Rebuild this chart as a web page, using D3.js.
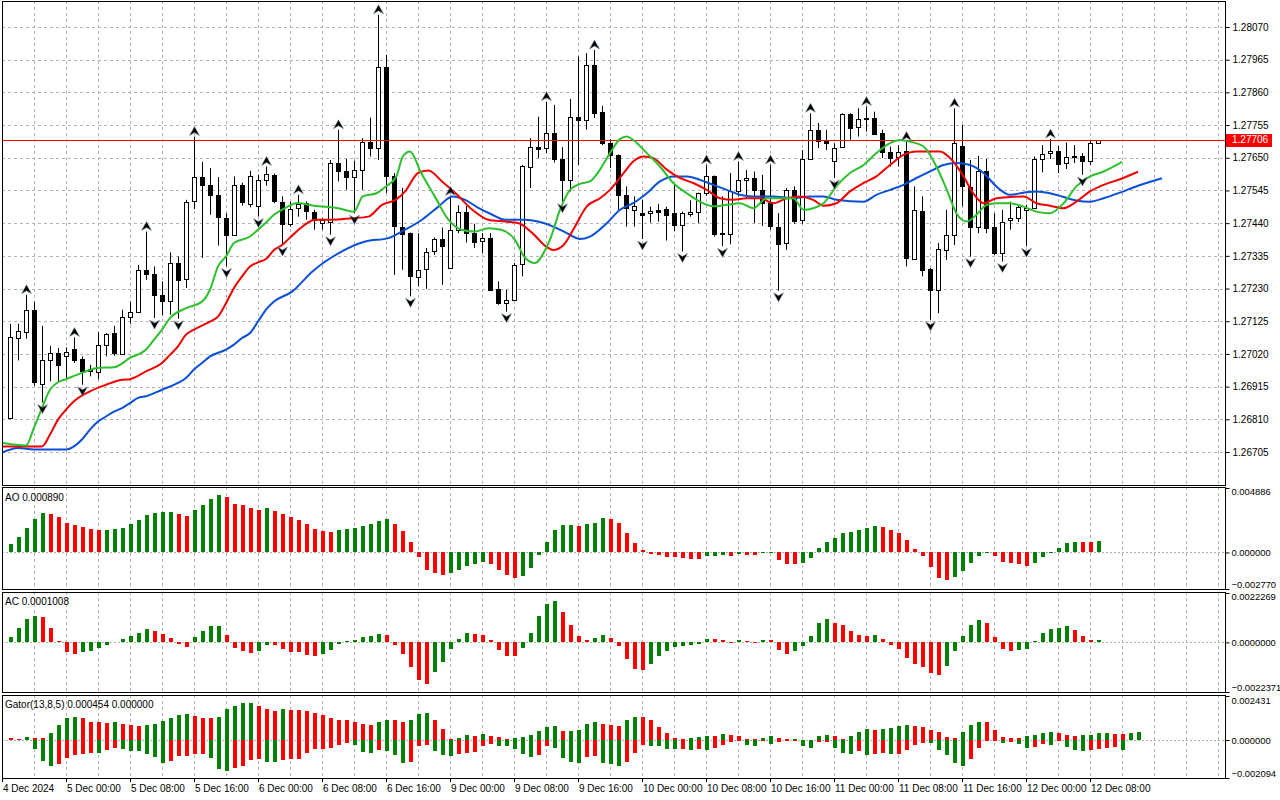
<!DOCTYPE html>
<html lang="en">
<head>
<meta charset="UTF-8">
<title>GBPUSD H1 - Alligator, AO, AC, Gator</title>
<script src="https://cdn.jsdelivr.net/npm/d3@7"></script>
<style>
  body { margin: 0; background: #fff; }
  svg { display: block; font-family: "Liberation Sans", Arial, sans-serif; font-size: 10px; }
</style>
</head>
<body>
<div id="chart"></div>
<script>
// ---- candles (H1, bar 0 = 4 Dec 17:00) ----
const candleOpen = [1.26814,1.27074,1.27090,1.27162,1.26923,1.27000,1.27023,1.27013,1.27037,1.27005,
  1.26972,1.26962,1.27049,1.27087,1.27021,1.27139,1.27155,1.27289,1.27277,1.27209,
  1.27190,1.27312,1.27262,1.27511,1.27588,1.27562,1.27530,1.27457,1.27402,1.27562,
  1.27504,1.27496,1.27578,1.27594,1.27509,1.27437,1.27488,1.27504,1.27476,1.27442,
  1.27442,1.27633,1.27608,1.27588,1.27610,1.27700,1.27681,1.27941,1.27590,1.27429,
  1.27408,1.27269,1.27293,1.27349,1.27389,1.27296,1.27419,1.27477,1.27408,1.27381,
  1.27392,1.27228,1.27183,1.27194,1.27306,1.27622,1.27686,1.27681,1.27729,1.27646,
  1.27577,1.27780,1.27772,1.27948,1.27796,1.27697,1.27659,1.27531,1.27483,1.27474,
  1.27472,1.27483,1.27485,1.27472,1.27434,1.27469,1.27476,1.27536,1.27590,1.27408,
  1.27403,1.27542,1.27577,1.27585,1.27547,1.27504,1.27429,1.27376,1.27547,1.27449,
  1.27646,1.27740,1.27707,1.27640,1.27684,1.27791,1.27748,1.27776,1.27777,1.27729,
  1.27670,1.27652,1.27672,1.27326,1.27480,1.27292,1.27226,1.27354,1.27403,1.27688,
  1.27556,1.27429,1.27609,1.27429,1.27344,1.27448,1.27456,1.27484,1.27490,1.27646,
  1.27665,1.27673,1.27633,1.27655,1.27655,1.27638,1.27697];
const candleHigh = [1.27117,1.27117,1.27210,1.27188,1.27110,1.27046,1.27039,1.27041,1.27073,1.27012,
  1.26985,1.27090,1.27087,1.27110,1.27162,1.27188,1.27306,1.27413,1.27301,1.27253,
  1.27346,1.27333,1.27515,1.27718,1.27637,1.27617,1.27588,1.27472,1.27590,1.27570,
  1.27608,1.27595,1.27622,1.27599,1.27526,1.27509,1.27531,1.27509,1.27483,1.27456,
  1.27643,1.27740,1.27646,1.27641,1.27713,1.27779,1.28109,1.27980,1.27601,1.27553,
  1.27410,1.27408,1.27360,1.27394,1.27426,1.27526,1.27497,1.27496,1.27438,1.27408,
  1.27408,1.27253,1.27226,1.27312,1.27627,1.27713,1.27782,1.27830,1.27820,1.27684,
  1.27839,1.27975,1.27986,1.27996,1.27817,1.27710,1.27661,1.27558,1.27526,1.27515,
  1.27493,1.27502,1.27493,1.27563,1.27477,1.27513,1.27538,1.27627,1.27593,1.27526,
  1.27601,1.27638,1.27611,1.27606,1.27595,1.27627,1.27472,1.27553,1.27558,1.27675,
  1.27793,1.27762,1.27740,1.27697,1.27793,1.27793,1.27809,1.27815,1.27798,1.27740,
  1.27686,1.27691,1.27702,1.27558,1.27526,1.27296,1.27376,1.27483,1.27809,1.27756,
  1.27643,1.27656,1.27646,1.27472,1.27483,1.27509,1.27499,1.27499,1.27654,1.27691,
  1.27710,1.27688,1.27699,1.27691,1.27665,1.27705,1.27707];
const candleLow = [1.26810,1.26999,1.27069,1.26918,1.26864,1.26932,1.26932,1.26943,1.26991,1.26921,
  1.26948,1.26939,1.27012,1.27014,1.27017,1.27117,1.27153,1.27258,1.27135,1.27144,
  1.27146,1.27133,1.27232,1.27485,1.27328,1.27467,1.27368,1.27301,1.27400,1.27496,
  1.27491,1.27461,1.27560,1.27504,1.27370,1.27429,1.27461,1.27451,1.27419,1.27419,
  1.27403,1.27574,1.27547,1.27472,1.27547,1.27654,1.27643,1.27537,1.27274,1.27290,
  1.27205,1.27237,1.27229,1.27338,1.27242,1.27295,1.27408,1.27378,1.27360,1.27344,
  1.27224,1.27178,1.27156,1.27192,1.27269,1.27553,1.27649,1.27665,1.27635,1.27509,
  1.27542,1.27627,1.27740,1.27777,1.27691,1.27617,1.27483,1.27429,1.27429,1.27389,
  1.27442,1.27445,1.27384,1.27415,1.27349,1.27461,1.27440,1.27528,1.27397,1.27366,
  1.27372,1.27526,1.27520,1.27440,1.27431,1.27419,1.27223,1.27354,1.27438,1.27438,
  1.27643,1.27681,1.27675,1.27585,1.27681,1.27708,1.27718,1.27734,1.27724,1.27649,
  1.27622,1.27622,1.27301,1.27322,1.27269,1.27130,1.27151,1.27322,1.27370,1.27494,
  1.27333,1.27408,1.27408,1.27338,1.27317,1.27419,1.27444,1.27366,1.27488,1.27603,
  1.27646,1.27601,1.27614,1.27633,1.27595,1.27627,1.27697];
const candleClose = [1.27074,1.27095,1.27162,1.26932,1.27001,1.27023,1.26983,1.27026,1.27001,1.26967,
  1.26964,1.27049,1.27084,1.27023,1.27139,1.27155,1.27289,1.27277,1.27209,1.27190,
  1.27312,1.27259,1.27508,1.27588,1.27561,1.27529,1.27458,1.27402,1.27562,1.27506,
  1.27593,1.27578,1.27598,1.27509,1.27437,1.27486,1.27501,1.27477,1.27451,1.27451,
  1.27633,1.27606,1.27588,1.27610,1.27700,1.27681,1.27941,1.27590,1.27429,1.27408,
  1.27269,1.27290,1.27347,1.27389,1.27365,1.27419,1.27476,1.27408,1.27378,1.27392,
  1.27226,1.27183,1.27194,1.27306,1.27622,1.27685,1.27681,1.27729,1.27646,1.27577,
  1.27780,1.27770,1.27948,1.27795,1.27695,1.27659,1.27529,1.27488,1.27496,1.27469,
  1.27480,1.27477,1.27465,1.27432,1.27472,1.27476,1.27536,1.27590,1.27405,1.27405,
  1.27542,1.27577,1.27585,1.27547,1.27504,1.27429,1.27376,1.27547,1.27449,1.27646,
  1.27740,1.27704,1.27698,1.27681,1.27791,1.27745,1.27774,1.27777,1.27727,1.27667,
  1.27651,1.27668,1.27328,1.27483,1.27292,1.27226,1.27357,1.27403,1.27697,1.27558,
  1.27429,1.27609,1.27427,1.27344,1.27445,1.27456,1.27492,1.27490,1.27646,1.27663,
  1.27673,1.27631,1.27652,1.27651,1.27638,1.27697,1.27706];

// bars carrying a fractal
const fractalUp = [2, 8, 17, 23, 32, 36, 41, 46, 55, 67, 73, 87, 91, 95, 100, 107, 112, 118, 130];
const fractalDown = [4, 9, 18, 21, 27, 31, 34, 40, 43, 50, 62, 69, 79, 84, 89, 96, 103, 115, 120, 124, 127, 134];

// Alligator lines, [bar, price] (shifted lines run past the last bar)
const jaw = [[-1,1.26703],[1,1.26718],[3,1.26713],[7,1.26713],[8,1.26723],[9,1.26745],[10,1.26777],[11,1.26803],
  [12,1.26819],[13,1.26835],[14,1.26846],[15,1.26862],[16,1.26879],[17,1.26884],[19,1.26905],[21,1.26927],
  [22,1.26943],[23,1.26970],[24,1.26991],[25,1.27012],[27,1.27034],[28,1.27050],[29,1.27071],[30,1.27087],
  [31,1.27124],[32,1.27162],[33,1.27188],[35.3,1.27221],[37.8,1.27285],[41.1,1.27344],[44.4,1.27381],
  [47.3,1.27392],[49.4,1.27419],[51.5,1.27451],[53.6,1.27494],[55.3,1.27526],[56.9,1.27515],[58.6,1.27488],
  [60.3,1.27467],[61.9,1.27451],[64.4,1.27451],[66,1.27445],[67.9,1.27429],[69.6,1.27408],[71.25,1.27389],
  [72.5,1.27397],[74.6,1.27440],[76.25,1.27483],[77.9,1.27504],[79.6,1.27536],[81.25,1.27574],[82.9,1.27590],
  [84.6,1.27590],[86.25,1.27579],[87.9,1.27563],[89.6,1.27547],[91.25,1.27531],[92.9,1.27526],[95.4,1.27526],
  [97.9,1.27520],[100,1.27526],[101.7,1.27526],[103.3,1.27515],[106.7,1.27509],[108.3,1.27531],[110,1.27547],
  [111.7,1.27563],[113.3,1.27585],[115,1.27606],[116.7,1.27627],[118.3,1.27633],[120,1.27627],[121.7,1.27601],
  [123.3,1.27558],[125,1.27531],[126.7,1.27538],[128.3,1.27542],[130,1.27536],[131.7,1.27524],[133.3,1.27513],
  [135,1.27509],[136.7,1.27520],[138.75,1.27538],[141,1.27560],[144,1.27584]];
const teeth = [[-1,1.26723],[4,1.26723],[5,1.26761],[6,1.26809],[7,1.26841],[8,1.26868],[10,1.26900],[12,1.26921],
  [14,1.26937],[15,1.26939],[17,1.26964],[19,1.26991],[20,1.27017],[21,1.27044],[22,1.27082],[23,1.27098],
  [25,1.27124],[26,1.27140],[27,1.27183],[28,1.27232],[29,1.27269],[30,1.27301],[31,1.27314],[32,1.27325],
  [33,1.27354],[34,1.27370],[35.6,1.27408],[38.2,1.27451],[40,1.27451],[42.9,1.27456],[44.8,1.27461],
  [46.5,1.27499],[48.2,1.27515],[49.4,1.27542],[51,1.27601],[52.3,1.27609],[54,1.27574],[55.7,1.27536],
  [57.8,1.27483],[59.8,1.27451],[61.9,1.27445],[63.6,1.27440],[65.3,1.27408],[67,1.27365],[67.9,1.27354],
  [69.2,1.27370],[70.4,1.27419],[72.1,1.27494],[73.75,1.27520],[75,1.27547],[76.7,1.27601],[77.9,1.27638],
  [79.2,1.27654],[80.4,1.27649],[82.1,1.27612],[83.75,1.27585],[85.4,1.27569],[87.1,1.27547],[88.75,1.27520],
  [90.4,1.27515],[92.1,1.27520],[93.75,1.27520],[95.4,1.27504],[97.1,1.27520],[98.75,1.27526],[100.4,1.27515],
  [101.7,1.27496],[103.3,1.27504],[105,1.27542],[106.7,1.27569],[108.3,1.27590],[110,1.27627],[111.7,1.27659],
  [113.3,1.27670],[116.25,1.27670],[117.5,1.27649],[119.2,1.27590],[120.4,1.27536],[121.7,1.27504],
  [123.3,1.27520],[125,1.27524],[126.7,1.27526],[128.3,1.27504],[130,1.27496],[131.7,1.27488],[133.3,1.27509],
  [135,1.27542],[136.7,1.27563],[138.75,1.27581],[141,1.27605]];
const lips = [[-1,1.26735],[2,1.26726],[3,1.26783],[4,1.26847],[5,1.26905],[6,1.26929],[7,1.26939],[9,1.26959],
  [11,1.26975],[13,1.26977],[15,1.27007],[17,1.27034],[18,1.27066],[19,1.27098],[20,1.27135],[22,1.27167],
  [24,1.27188],[25,1.27226],[26,1.27301],[27,1.27333],[28,1.27376],[30,1.27397],[31,1.27419],[32,1.27442],
  [33,1.27467],[34,1.27483],[36,1.27505],[38,1.27496],[41,1.27488],[43,1.27477],[44.1,1.27526],[45.8,1.27536],
  [47,1.27558],[48.3,1.27590],[49.1,1.27654],[50,1.27670],[51.4,1.27601],[53.1,1.27526],[54.8,1.27451],
  [56.4,1.27419],[58.1,1.27413],[59.8,1.27424],[61.4,1.27419],[63.1,1.27387],[64.4,1.27328],[65.6,1.27312],
  [66.9,1.27354],[67.5,1.27387],[68.75,1.27483],[70,1.27547],[71.25,1.27566],[72.5,1.27574],[73.75,1.27612],
  [75,1.27665],[76.25,1.27710],[77.1,1.27718],[77.9,1.27707],[79.6,1.27665],[81.25,1.27622],[82.9,1.27569],
  [84.6,1.27536],[86.25,1.27509],[87.9,1.27494],[89.6,1.27499],[91.25,1.27504],[92.9,1.27488],[94.6,1.27520],
  [96.25,1.27520],[97.9,1.27520],[99.2,1.27483],[100.4,1.27488],[101.7,1.27504],[103.3,1.27558],[105,1.27601],
  [106.7,1.27627],[108.3,1.27665],[110,1.27697],[111.25,1.27707],[112.5,1.27702],[114.2,1.27686],[115.8,1.27622],
  [117.1,1.27547],[118.3,1.27472],[119.6,1.27445],[120.8,1.27467],[122.1,1.27499],[123.3,1.27504],[125,1.27504],
  [126.7,1.27493],[128.3,1.27477],[130,1.27472],[131.7,1.27504],[133.3,1.27558],[135,1.27590],[136.7,1.27606],
  [139,1.27637]];

const lastPrice = 1.27706;

// ---- Awesome Oscillator ----
const aoValues = [0.00061,0.00114,0.00182,0.00250,0.00296,0.00294,0.00265,0.00220,0.00205,0.00190,
  0.00177,0.00167,0.00169,0.00177,0.00187,0.00212,0.00245,0.00283,0.00296,0.00303,
  0.00304,0.00288,0.00273,0.00321,0.00356,0.00402,0.00432,0.00417,0.00371,0.00356,
  0.00334,0.00321,0.00334,0.00318,0.00288,0.00265,0.00243,0.00212,0.00177,0.00159,
  0.00152,0.00169,0.00177,0.00184,0.00200,0.00212,0.00238,0.00250,0.00212,0.00159,
  0.00076,-0.00035,-0.00136,-0.00152,-0.00174,-0.00159,-0.00136,-0.00099,-0.00091,-0.00076,
  -0.00091,-0.00136,-0.00174,-0.00197,-0.00182,-0.00121,-0.00020,0.00083,0.00174,0.00205,
  0.00206,0.00204,0.00212,0.00227,0.00258,0.00250,0.00220,0.00144,0.00068,0.00015,
  -0.00013,-0.00020,-0.00035,-0.00036,-0.00043,-0.00051,-0.00052,-0.00028,-0.00027,-0.00020,
  -0.00028,-0.00013,-0.00020,-0.00021,-0.00005,-0.00004,-0.00058,-0.00088,-0.00089,-0.00081,
  -0.00043,0.00030,0.00083,0.00106,0.00144,0.00152,0.00167,0.00182,0.00197,0.00190,
  0.00167,0.00144,0.00091,0.00023,-0.00028,-0.00111,-0.00195,-0.00210,-0.00187,-0.00142,
  -0.00081,-0.00028,-0.00005,-0.00028,-0.00073,-0.00081,-0.00088,-0.00104,-0.00081,-0.00035,
  -0.00005,0.00030,0.00068,0.00083,0.00082,0.00081,0.00089];

// ---- Accelerator Oscillator ----
const acValues = [0.00024,0.00065,0.00105,0.00119,0.00114,0.00065,0.00006,-0.00044,-0.00051,-0.00042,
  -0.00039,-0.00026,-0.00011,0.00002,0.00014,0.00029,0.00042,0.00060,0.00051,0.00038,
  0.00020,-0.00006,-0.00021,0.00024,0.00051,0.00074,0.00075,0.00033,-0.00024,-0.00039,
  -0.00048,-0.00039,-0.00011,-0.00012,-0.00029,-0.00044,-0.00045,-0.00056,-0.00062,-0.00051,
  -0.00033,-0.00006,0.00005,0.00009,0.00024,0.00029,0.00038,0.00033,-0.00011,-0.00051,
  -0.00110,-0.00170,-0.00188,-0.00132,-0.00087,-0.00029,0.00015,0.00042,0.00038,0.00033,
  0.00011,-0.00033,-0.00060,-0.00062,-0.00024,0.00042,0.00119,0.00173,0.00186,0.00137,
  0.00078,0.00029,0.00011,0.00020,0.00033,0.00020,-0.00015,-0.00075,-0.00120,-0.00125,
  -0.00098,-0.00062,-0.00039,-0.00021,-0.00015,-0.00012,-0.00006,0.00015,0.00014,0.00011,
  -0.00002,0.00011,0.00005,-0.00002,0.00011,0.00009,-0.00035,-0.00053,-0.00039,-0.00017,
  0.00029,0.00087,0.00105,0.00087,0.00078,0.00051,0.00033,0.00029,0.00033,0.00015,
  -0.00011,-0.00030,-0.00071,-0.00098,-0.00111,-0.00138,-0.00147,-0.00107,-0.00039,0.00029,
  0.00078,0.00101,0.00087,0.00024,-0.00030,-0.00039,-0.00035,-0.00030,0.00005,0.00042,
  0.00060,0.00065,0.00074,0.00056,0.00029,0.00009,0.0001008];

// ---- Gator Oscillator (upper runs 5 bars past the last candle, lower 3) ----
const gatorUpper = [0.00011,0.00007,0.00016,0.00011,0.00009,0.00038,0.00081,0.00124,0.00129,0.00119,
  0.00102,0.00097,0.00092,0.00097,0.00086,0.00081,0.00075,0.00081,0.00088,0.00104,
  0.00119,0.00140,0.00142,0.00135,0.00124,0.00119,0.00129,0.00172,0.00189,0.00205,
  0.00207,0.00189,0.00172,0.00162,0.00172,0.00167,0.00165,0.00163,0.00151,0.00140,
  0.00119,0.00113,0.00108,0.00097,0.00086,0.00084,0.00102,0.00113,0.00108,0.00102,
  0.00113,0.00145,0.00151,0.00113,0.00061,0.00005,0.00011,0.00027,0.00022,0.00032,
  0.00022,0.00016,0.00007,0.00011,0.00016,0.00027,0.00048,0.00070,0.00075,0.00048,
  0.00052,0.00054,0.00086,0.00097,0.00086,0.00081,0.00079,0.00113,0.00129,0.00128,
  0.00108,0.00070,0.00038,0.00011,0.00005,0.00011,0.00016,0.00022,0.00020,0.00032,
  0.00027,0.00022,0.00005,0.00004,0.00011,0.00022,0.00011,0.00005,0.00007,0.00000,
  0.00000,0.00022,0.00027,0.00022,0.00005,0.00022,0.00043,0.00059,0.00057,0.00061,
  0.00065,0.00075,0.00081,0.00079,0.00070,0.00054,0.00043,0.00016,0.00011,0.00043,
  0.00081,0.00102,0.00097,0.00054,0.00016,0.00011,0.00009,0.00022,0.00027,0.00038,
  0.00043,0.00038,0.00027,0.00022,0.00027,0.00029,0.00038,0.00040,0.00036,0.00032,
  0.00038,0.000454];
const gatorLower = [0,0,0,-0.00052,-0.00113,-0.00144,-0.00133,-0.00101,-0.00084,-0.00079,
  -0.00070,-0.00072,-0.00057,-0.00043,-0.00047,-0.00059,-0.00061,-0.00075,-0.00093,-0.00129,
  -0.00115,-0.00088,-0.00086,-0.00079,-0.00075,-0.00099,-0.00162,-0.00172,-0.00156,-0.00144,
  -0.00108,-0.00102,-0.00119,-0.00120,-0.00108,-0.00106,-0.00102,-0.00070,-0.00048,-0.00047,
  -0.00043,-0.00027,-0.00016,-0.00027,-0.00065,-0.00070,-0.00054,-0.00059,-0.00081,-0.00124,
  -0.00122,-0.00032,-0.00027,-0.00059,-0.00081,-0.00086,-0.00075,-0.00070,-0.00065,-0.00032,
  -0.00022,-0.00032,-0.00034,-0.00048,-0.00075,-0.00093,-0.00081,-0.00032,-0.00043,-0.00097,
  -0.00119,-0.00124,-0.00092,-0.00086,-0.00129,-0.00131,-0.00144,-0.00119,-0.00070,-0.00027,
  -0.00032,-0.00034,-0.00048,-0.00050,-0.00047,-0.00054,-0.00048,-0.00054,-0.00043,-0.00027,
  -0.00011,-0.00005,-0.00027,-0.00032,-0.00005,-0.00022,-0.00011,-0.00005,-0.00004,-0.00032,
  -0.00043,-0.00011,-0.00009,-0.00043,-0.00070,-0.00075,-0.00059,-0.00081,-0.00075,-0.00074,
  -0.00077,-0.00075,-0.00054,-0.00027,-0.00016,-0.00018,-0.00054,-0.00081,-0.00129,-0.00144,
  -0.00102,-0.00043,-0.00005,-0.00004,-0.00016,-0.00011,-0.00022,-0.00043,-0.00038,-0.00022,
  -0.00027,-0.00005,-0.00038,-0.00054,-0.00059,-0.00054,-0.00048,-0.00043,-0.00040,-0.00054];

// ---- axis labels ----
const priceTicks = [1.28070,1.27965,1.27860,1.27755,1.27650,1.27545,1.27440,1.27335,1.27230,1.27125,1.27020,1.26915,1.26810,1.26705];
const aoTicks = [0.004886, 0, -0.002770];
const acTicks = [0.0022269, 0, -0.0022371];
const gatorTicks = [0.002431, 0, -0.002094];
const timeLabelBars = [-1, 7, 15, 23, 31, 39, 47, 55, 63, 71, 79, 87, 95, 103, 111, 119, 127, 135];
const timeLabels = ["4 Dec 2024","5 Dec 00:00","5 Dec 08:00","5 Dec 16:00","6 Dec 00:00","6 Dec 08:00",
  "6 Dec 16:00","9 Dec 00:00","9 Dec 08:00","9 Dec 16:00","10 Dec 00:00","10 Dec 08:00","10 Dec 16:00",
  "11 Dec 00:00","11 Dec 08:00","11 Dec 16:00","12 Dec 00:00","12 Dec 08:00"];

// ---- layout ----
const width = 1280, height = 800;
const left = 2, right = 1225;
const panels = {
  main:  { top: 1,   bottom: 485 },
  ao:    { top: 487, bottom: 589 },
  ac:    { top: 592, bottom: 692 },
  gator: { top: 695, bottom: 778 }
};
const GREEN = "#008000", RED = "#ff0000";
const GRID = "#b9b0bb";
const AXIS_FONT = "Liberation Sans, Arial, sans-serif";

const svg = d3.select("#chart").append("svg")
  .attr("width", width).attr("height", height);
svg.append("rect").attr("width", width).attr("height", height).attr("fill", "#fff");

const x = d3.scaleLinear().domain([0, 136]).range([10, 1098]);
const yMain = d3.scaleLinear().domain([1.26705, 1.28070]).range([452, 27]);
const yAO = d3.scaleLinear().domain([-0.002770, 0.004886]).range([panels.ao.bottom, panels.ao.top + 1]);
const yAC = d3.scaleLinear().domain([-0.0022371, 0.0022269]).range([panels.ac.bottom, panels.ac.top + 1]);
const yGator = d3.scaleLinear().domain([-0.002094, 0.002431]).range([panels.gator.bottom, panels.gator.top + 1]);

// clip paths per panel
Object.entries(panels).forEach(([name, p]) => {
  svg.append("clipPath").attr("id", "clip-" + name)
    .append("rect").attr("x", left).attr("y", p.top).attr("width", right - left).attr("height", p.bottom - p.top);
});

// vertical grid every 4 bars, all panels
const gridBars = d3.range(3, 152, 4).filter(b => x(b) < right);
Object.entries(panels).forEach(([name, p]) => {
  svg.append("g").selectAll("line").data(gridBars).join("line")
    .attr("x1", d => x(d) + 0.5).attr("x2", d => x(d) + 0.5)
    .attr("y1", p.top).attr("y2", p.bottom)
    .attr("stroke", GRID).attr("stroke-dasharray", "3,3");
});

// horizontal grid in the price panel
svg.append("g").selectAll("line").data(priceTicks).join("line")
  .attr("x1", left).attr("x2", right)
  .attr("y1", d => Math.round(yMain(d)) + 0.5).attr("y2", d => Math.round(yMain(d)) + 0.5)
  .attr("stroke", GRID).attr("stroke-dasharray", "3,3");

// ---- price panel ----
const main = svg.append("g").attr("clip-path", "url(#clip-main)");
const candles = candleOpen.map((o, i) => ({ i, o, h: candleHigh[i], l: candleLow[i], c: candleClose[i] }));

main.append("g").selectAll("line").data(candles).join("line")
  .attr("x1", d => x(d.i) + 0.5).attr("x2", d => x(d.i) + 0.5)
  .attr("y1", d => yMain(d.h)).attr("y2", d => yMain(d.l))
  .attr("stroke", "#000").attr("stroke-width", 1);

main.append("g").selectAll("rect").data(candles).join("rect")
  .attr("x", d => x(d.i) - 1.5)
  .attr("width", 4)
  .attr("y", d => Math.round(yMain(Math.max(d.o, d.c))) + 0.5)
  .attr("height", d => Math.max(1, Math.round(Math.abs(yMain(d.o) - yMain(d.c)))))
  .attr("fill", d => d.c >= d.o ? "#fff" : "#000")
  .attr("stroke", "#000").attr("stroke-width", 1);

// current price line
main.append("line")
  .attr("x1", left).attr("x2", right)
  .attr("y1", Math.round(yMain(lastPrice)) + 0.5).attr("y2", Math.round(yMain(lastPrice)) + 0.5)
  .attr("stroke", RED).attr("stroke-width", 1);

// alligator
const line = d3.line().x(d => x(d[0])).y(d => yMain(d[1])).curve(d3.curveMonotoneX);
[[jaw, "#0a4fd6"], [teeth, "#f00000"], [lips, "#2cc02c"]].forEach(([data, color]) => {
  main.append("path").datum(data).attr("d", line)
    .attr("fill", "none").attr("stroke", color).attr("stroke-width", 2);
});

// fractal arrows
const upArrow = (cx, yb) => `M${cx},${yb - 9}L${cx + 5},${yb}L${cx},${yb - 3}L${cx - 5},${yb}Z`;
const downArrow = (cx, yt) => `M${cx},${yt + 9}L${cx + 5},${yt}L${cx},${yt + 3}L${cx - 5},${yt}Z`;
main.append("g").selectAll("path").data(fractalUp).join("path")
  .attr("d", d => upArrow(x(d) + 0.5, yMain(candleHigh[d]) - 1))
  .attr("fill", "#000").attr("stroke", "#7a8aa0").attr("stroke-width", 0.5);
main.append("g").selectAll("path").data(fractalDown).join("path")
  .attr("d", d => downArrow(x(d) + 0.5, yMain(candleLow[d]) + 2))
  .attr("fill", "#000").attr("stroke", "#7a8aa0").attr("stroke-width", 0.5);

// ---- oscillator helpers ----
function barColors(values, first) {
  let prev = first;
  return values.map((v, i) => {
    if (i > 0) {
      if (v > values[i - 1]) prev = GREEN;
      else if (v < values[i - 1]) prev = RED;
    }
    return prev;
  });
}

function zeroLine(scale) {
  svg.append("line")
    .attr("x1", left).attr("x2", right)
    .attr("y1", Math.round(scale(0)) + 0.5).attr("y2", Math.round(scale(0)) + 0.5)
    .attr("stroke", "#a9b4a9").attr("stroke-dasharray", "2,2");
}

function histogram(name, values, scale, colors) {
  svg.append("g").attr("clip-path", "url(#clip-" + name + ")")
    .selectAll("rect").data(values).join("rect")
    .attr("x", (d, i) => x(i) - 1.5)
    .attr("width", 4)
    .attr("y", d => Math.min(scale(d), scale(0)))
    .attr("height", d => Math.abs(scale(d) - scale(0)))
    .attr("fill", (d, i) => colors[i])
    .attr("shape-rendering", "crispEdges");
}

// AO
zeroLine(yAO);
histogram("ao", aoValues, yAO, barColors(aoValues, GREEN));
// AC
zeroLine(yAC);
histogram("ac", acValues, yAC, barColors(acValues, GREEN));
// Gator
zeroLine(yGator);
histogram("gator", gatorUpper, yGator, barColors(gatorUpper, RED));
const lowerAbs = gatorLower.map(Math.abs);
histogram("gator", gatorLower, yGator, barColors(lowerAbs, GREEN));

// ---- frames ----
Object.values(panels).forEach(p => {
  svg.append("rect")
    .attr("x", left + 0.5).attr("y", p.top + 0.5)
    .attr("width", right - left).attr("height", p.bottom - p.top)
    .attr("fill", "none").attr("stroke", "#000").attr("stroke-width", 1);
});

// ---- right axes ----
const axisMain = d3.axisRight(yMain).tickValues(priceTicks).tickSize(4).tickFormat(d3.format(".5f"));
const gMain = svg.append("g").attr("transform", `translate(${right + 0.5},0)`).call(axisMain);
gMain.select(".domain").remove();
gMain.selectAll("text").attr("font-family", AXIS_FONT).attr("font-size", 10).attr("fill", "#000");

function subAxis(scale, ticks, fmt, topShift) {
  const g = svg.append("g").attr("transform", `translate(${right + 0.5},0)`)
    .call(d3.axisRight(scale).tickValues(ticks).tickSize(4).tickPadding(2).tickFormat(d3.format(fmt)));
  g.select(".domain").remove();
  g.selectAll("text")
    .attr("font-family", AXIS_FONT).attr("font-size", 9.4).attr("fill", "#000")
    .attr("dy", (d, i) => i === 0 ? topShift : i === ticks.length - 1 ? "-0.15em" : "0.32em");
}
subAxis(yAO, aoTicks, ".6f", "0.72em");
subAxis(yAC, acTicks, ".7f", "0.72em");
subAxis(yGator, gatorTicks, ".6f", "0.8em");

// current price tag
const tagY = Math.round(yMain(lastPrice));
svg.append("rect").attr("x", right + 1).attr("y", tagY - 6).attr("width", 46).attr("height", 13).attr("fill", RED);
svg.append("text").attr("x", right + 7).attr("y", tagY).attr("dy", "0.34em")
  .attr("fill", "#fff").text(d3.format(".5f")(lastPrice));

// ---- panel titles ----
svg.append("text").attr("x", 5).attr("y", panels.ao.top + 14).text("AO " + d3.format(".6f")(aoValues[aoValues.length - 1]));
svg.append("text").attr("x", 5).attr("y", panels.ac.top + 13).text("AC " + d3.format(".7f")(acValues[acValues.length - 1]));
svg.append("text").attr("x", 5).attr("y", panels.gator.top + 13)
  .text("Gator(13,8,5) " + d3.format(".6f")(gatorUpper[gatorUpper.length - 1]) + " 0.000000");

// ---- time axis ----
const gTime = svg.append("g");
gTime.selectAll("line").data(timeLabelBars).join("line")
  .attr("x1", d => x(d) + 0.5).attr("x2", d => x(d) + 0.5)
  .attr("y1", panels.gator.bottom).attr("y2", panels.gator.bottom + 4)
  .attr("stroke", "#000");
gTime.selectAll("text").data(timeLabels).join("text")
  .attr("x", (d, i) => x(timeLabelBars[i]) + 1)
  .attr("y", 792)
  .text(d => d);
</script>
</body>
</html>
